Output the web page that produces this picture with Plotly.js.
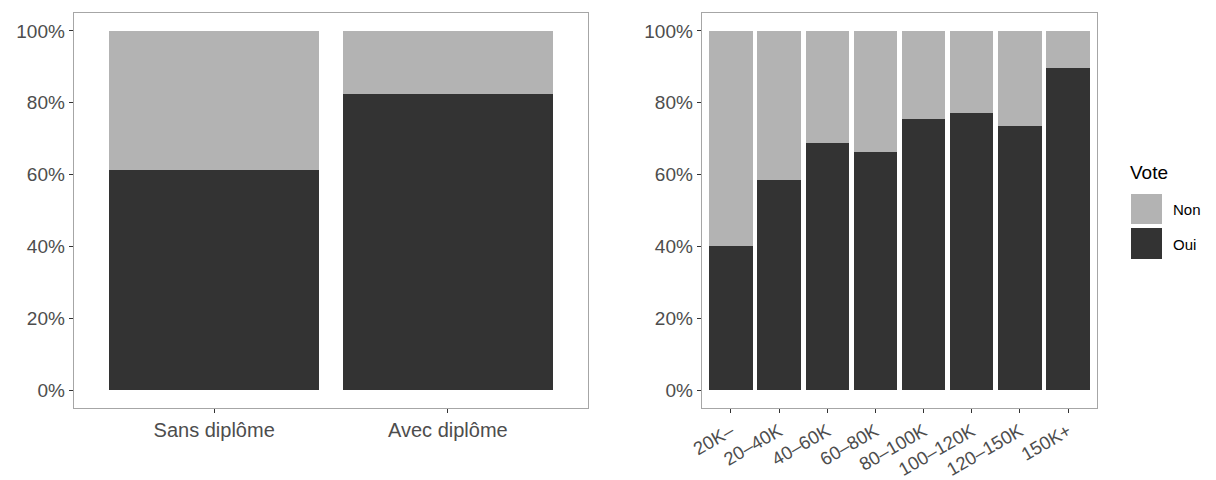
<!DOCTYPE html>
<html><head><meta charset="utf-8">
<script src="https://cdn.plot.ly/plotly-3.0.1.min.js"></script>
<style>body{margin:0;padding:0;background:#fff}#chart{width:1216px;height:480px}</style>
</head><body><div id="chart"></div>
<script>
const diplomeCats = ["Sans diplôme", "Avec diplôme"];
const diplomeOui = [61.4, 82.5];
const revenuCats = ["20K–", "20–40K", "40–60K", "60–80K", "80–100K", "100–120K", "120–150K", "150K+"];
const revenuOui = [40.0, 58.6, 68.9, 66.4, 75.6, 77.2, 73.6, 89.7];
const voteLevels = ["Non", "Oui"];
const voteColors = {"Non": "#b3b3b3", "Oui": "#333333"};

const diplomeNon = diplomeOui.map(v => 100 - v);
const revenuNon = revenuOui.map(v => 100 - v);

const W = 1216, H = 480;
const px = v => v / W, py = v => 1 - v / H;
const font = "Liberation Sans, Arial, sans-serif";

function bar(x, y, name, xa) {
  return {type: "bar", x: x, y: y, name: name, xaxis: xa, yaxis: xa === "x" ? "y" : "y2",
    marker: {color: voteColors[name], line: {width: 0}}, width: 0.9, showlegend: false, hoverinfo: "x+y"};
}
const data = [
  bar(diplomeCats, diplomeOui, "Oui", "x"),
  bar(diplomeCats, diplomeNon, "Non", "x"),
  bar(revenuCats, revenuOui, "Oui", "x2"),
  bar(revenuCats, revenuNon, "Non", "x2")
];

const yCommon = {range: [-5, 105], tickvals: [0, 20, 40, 60, 80, 100], ticktext: ["0%", "20%", "40%", "60%", "80%", "100%"],
  ticks: "outside", ticklen: 4, tickcolor: "#333", tickwidth: 1, showgrid: false, zeroline: false,
  showline: true, mirror: true, linecolor: "#a6a6a6", linewidth: 1.3,
  tickfont: {family: font, size: 19, color: "#4d4d4d"}, domain: [py(408), py(13)], fixedrange: true};
const xCommon = {type: "category", ticks: "outside", ticklen: 4, tickcolor: "#333", tickwidth: 1,
  showgrid: false, zeroline: false, showline: true, mirror: true, linecolor: "#a6a6a6", linewidth: 1.3,
  tickfont: {family: font, size: 20, color: "#4d4d4d"}, fixedrange: true};

const layout = {
  width: W, height: H, margin: {l: 0, r: 0, t: 0, b: 0}, paper_bgcolor: "#fff", plot_bgcolor: "#fff",
  barmode: "stack", bargap: 0.1, showlegend: false,
  xaxis: Object.assign({}, xCommon, {domain: [px(74), px(588)], range: [-0.6, 1.6], anchor: "y"}),
  yaxis: Object.assign({}, yCommon, {anchor: "x"}),
  xaxis2: Object.assign({}, xCommon, {domain: [px(702), px(1097)], range: [-0.6, 7.6], anchor: "y2", tickangle: -30,
    tickfont: {family: font, size: 18.5, color: "#4d4d4d"}}),
  yaxis2: Object.assign({}, yCommon, {anchor: "x2"}),
  shapes: [
    {type: "rect", xref: "paper", yref: "paper", x0: px(1131), x1: px(1162), y0: py(224), y1: py(194), fillcolor: voteColors["Non"], line: {width: 0}},
    {type: "rect", xref: "paper", yref: "paper", x0: px(1131), x1: px(1162), y0: py(259), y1: py(228), fillcolor: voteColors["Oui"], line: {width: 0}}
  ],
  annotations: [
    {xref: "paper", yref: "paper", x: px(1128), y: py(172), xanchor: "left", yanchor: "middle", text: "Vote", showarrow: false, font: {family: font, size: 19, color: "#000"}},
    {xref: "paper", yref: "paper", x: px(1171), y: py(209), xanchor: "left", yanchor: "middle", text: voteLevels[0], showarrow: false, font: {family: font, size: 15, color: "#000"}},
    {xref: "paper", yref: "paper", x: px(1171), y: py(244), xanchor: "left", yanchor: "middle", text: voteLevels[1], showarrow: false, font: {family: font, size: 15, color: "#000"}}
  ]
};
Plotly.newPlot("chart", data, layout, {displayModeBar: false, staticPlot: true});
</script></body></html>
